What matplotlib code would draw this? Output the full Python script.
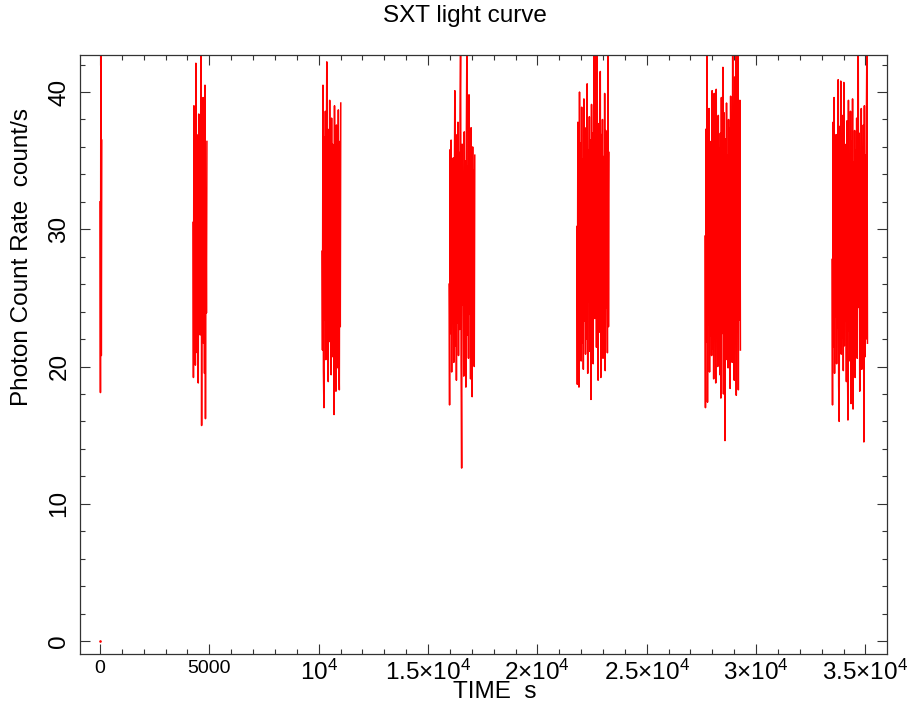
import numpy as np
import matplotlib
matplotlib.use("Agg")
import matplotlib.pyplot as plt
from matplotlib.ticker import MultipleLocator

plt.rcParams['font.family'] = ['Liberation Sans', 'DejaVu Sans']
plt.rcParams['mathtext.fontset'] = 'custom'
plt.rcParams['mathtext.rm'] = 'Liberation Sans'
plt.rcParams['mathtext.it'] = 'Liberation Sans:italic'
plt.rcParams['path.simplify'] = False

# SXT light curve: orbit segments (start time s, bin size s, rates count/s)
seg_start = [0, 4250, 10150, 15960, 21800, 27660, 33470]
seg_bin = [20, 22, 22, 24, 25, 23.5, 23.5]

rate0 = [32.0, 18.1, 44.0, 20.8, 36.5]
rate1 = [30.5, 19.2, 39.0, 23.5, 35.2, 20.1, 42.1, 24.8, 36.9, 21.0,
         33.5, 18.8, 38.4, 25.6, 31.9, 22.3, 37.5, 43.5, 15.7, 34.1,
         26.2, 39.6, 21.7, 35.8, 19.5, 40.5, 16.2, 33.0, 23.9, 36.4]
rate2 = [28.4, 21.2, 40.5, 19.8, 17.0, 36.7, 23.4, 38.6, 20.5, 34.2,
         42.2, 22.1, 37.3, 18.9, 35.5, 24.6, 39.4, 21.8, 33.7, 19.4,
         38.1, 23.0, 36.2, 20.7, 34.8, 16.5, 39.0, 22.6, 35.9, 18.2,
         37.6, 24.1, 32.8, 19.9, 38.7, 21.5, 18.3, 36.4, 22.9, 39.2]
rate3 = [26.0, 17.2, 35.8, 22.4, 36.5, 19.6, 33.1, 24.0, 35.2, 20.3,
         31.7, 40.1, 21.5, 36.9, 19.0, 34.4, 23.2, 37.8, 20.8, 35.6,
         22.7, 38.4, 44.0, 20.1, 12.6, 36.2, 24.5, 33.9, 19.3, 37.1,
         21.9, 35.0, 18.5, 36.8, 43.5, 22.3, 34.6, 20.6, 39.8, 23.8,
         35.7, 19.1, 37.4, 21.2, 17.8, 36.0, 24.4, 34.3, 20.0, 35.4]
rate4 = [30.2, 18.7, 37.8, 22.6, 18.5, 40.0, 24.1, 36.3, 20.4, 38.9,
         21.7, 35.1, 19.8, 39.5, 23.3, 36.7, 20.9, 37.4, 22.0, 40.6,
         19.5, 35.8, 24.7, 38.2, 21.1, 36.5, 17.6, 39.1, 22.8, 37.0,
         20.2, 38.6, 43.2, 23.5, 36.1, 44.0, 21.4, 42.9, 24.9, 19.0,
         37.7, 22.5, 39.3, 41.5, 19.2, 36.9, 23.7, 38.0, 20.6, 35.3,
         22.2, 39.9, 19.7, 37.2, 24.3, 36.0, 21.0, 43.8, 22.9, 35.6]
rate5 = [29.5, 17.0, 37.3, 21.8, 44.0, 17.4, 35.6, 23.0, 38.8, 19.6,
         36.4, 22.2, 34.9, 20.8, 40.1, 21.3, 37.7, 19.1, 39.9, 23.6,
         35.2, 18.8, 40.2, 22.7, 36.8, 20.0, 38.3, 24.2, 35.9, 19.4,
         37.0, 17.7, 39.6, 22.4, 36.1, 41.8, 18.0, 38.5, 23.1, 14.6,
         36.6, 20.5, 39.2, 21.6, 35.4, 19.9, 38.0, 23.9, 37.4, 18.4,
         39.7, 22.0, 36.3, 20.3, 44.0, 24.6, 38.7, 19.0, 41.1, 21.9,
         43.6, 17.9, 37.8, 22.5, 44.0, 18.3, 36.9, 23.4, 39.4, 21.2]
rate6 = [27.8, 17.2, 37.8, 21.4, 39.6, 19.5, 35.1, 23.6, 36.9, 20.2,
         34.4, 22.8, 40.9, 18.6, 16.0, 37.5, 24.0, 40.8, 20.9, 35.7,
         22.1, 38.3, 19.7, 40.7, 21.5, 36.2, 23.3, 34.8, 18.9, 37.9,
         21.0, 16.1, 39.4, 22.6, 35.5, 20.4, 38.6, 17.3, 36.4, 23.8,
         39.5, 16.9, 34.9, 21.8, 37.2, 19.2, 35.8, 22.4, 38.1, 20.6,
         36.7, 44.0, 24.3, 37.0, 18.2, 35.3, 21.3, 38.8, 19.8, 36.0,
         23.1, 37.6, 14.5, 39.0, 20.7, 35.4, 22.0, 38.4, 44.0, 21.7]
rates = [rate0, rate1, rate2, rate3, rate4, rate5, rate6]

# isolated empty bin at the start
zero_time = [0]
zero_rate = [0]

xticks = [0, 5000, 10000, 15000, 20000, 25000, 30000, 35000]
xticklabels = ['0', '5000', r'$\mathrm{10^4}$', r'$\mathrm{1.5{\times}10^4}$',
               r'$\mathrm{2{\times}10^4}$', r'$\mathrm{2.5{\times}10^4}$',
               r'$\mathrm{3{\times}10^4}$', r'$\mathrm{3.5{\times}10^4}$']
yticks = [0, 10, 20, 30, 40]

fig = plt.figure(figsize=(9.2, 7.09), dpi=100)
ax = fig.add_axes([80/920, 1 - 654/709, 807/920, 599/709])

for t0, dt, r in zip(seg_start, seg_bin, rates):
    t = t0 + dt * np.arange(len(r))
    ax.plot(t, r, color='#ff0000', lw=1.1)
ax.plot(zero_time, zero_rate, ls='none', marker='o', ms=0.9, color='#ff0000')

ax.set_xlim(-915, 35985)
ax.set_ylim(-0.95, 42.7)

ax.set_xticks(xticks)
ax.set_xticklabels(xticklabels)
ax.set_yticks(yticks)
ax.xaxis.set_minor_locator(MultipleLocator(1000))
ax.yaxis.set_minor_locator(MultipleLocator(2))
ax.tick_params(which='both', direction='in', top=True, right=True,
               width=0.8, color='#333333')
ax.tick_params(which='major', length=7)
ax.tick_params(which='minor', length=3.6)
ax.tick_params(axis='x', labelsize=17.5, pad=4)
ax.tick_params(axis='y', labelsize=17.5, pad=7)
for lab in ax.get_yticklabels():
    lab.set_rotation(90)
    lab.set_va('center')
for lab in ax.get_xticklabels()[:2]:
    lab.set_fontsize(14)
for sp in ax.spines.values():
    sp.set_color('#333333')
    sp.set_linewidth(0.9)

fig.text(465/920, 1 - 16/709, 'SXT light curve', ha='center', va='center',
         fontsize=17.5)
fig.text(495/920, 1 - 692/709, 'TIME  s', ha='center', va='center',
         fontsize=17.5)
fig.text(22/920, 1 - 257/709, 'Photon Count Rate  count/s', ha='center',
         va='center', rotation=90, fontsize=17.5)

fig.savefig('out.png', dpi=100)
